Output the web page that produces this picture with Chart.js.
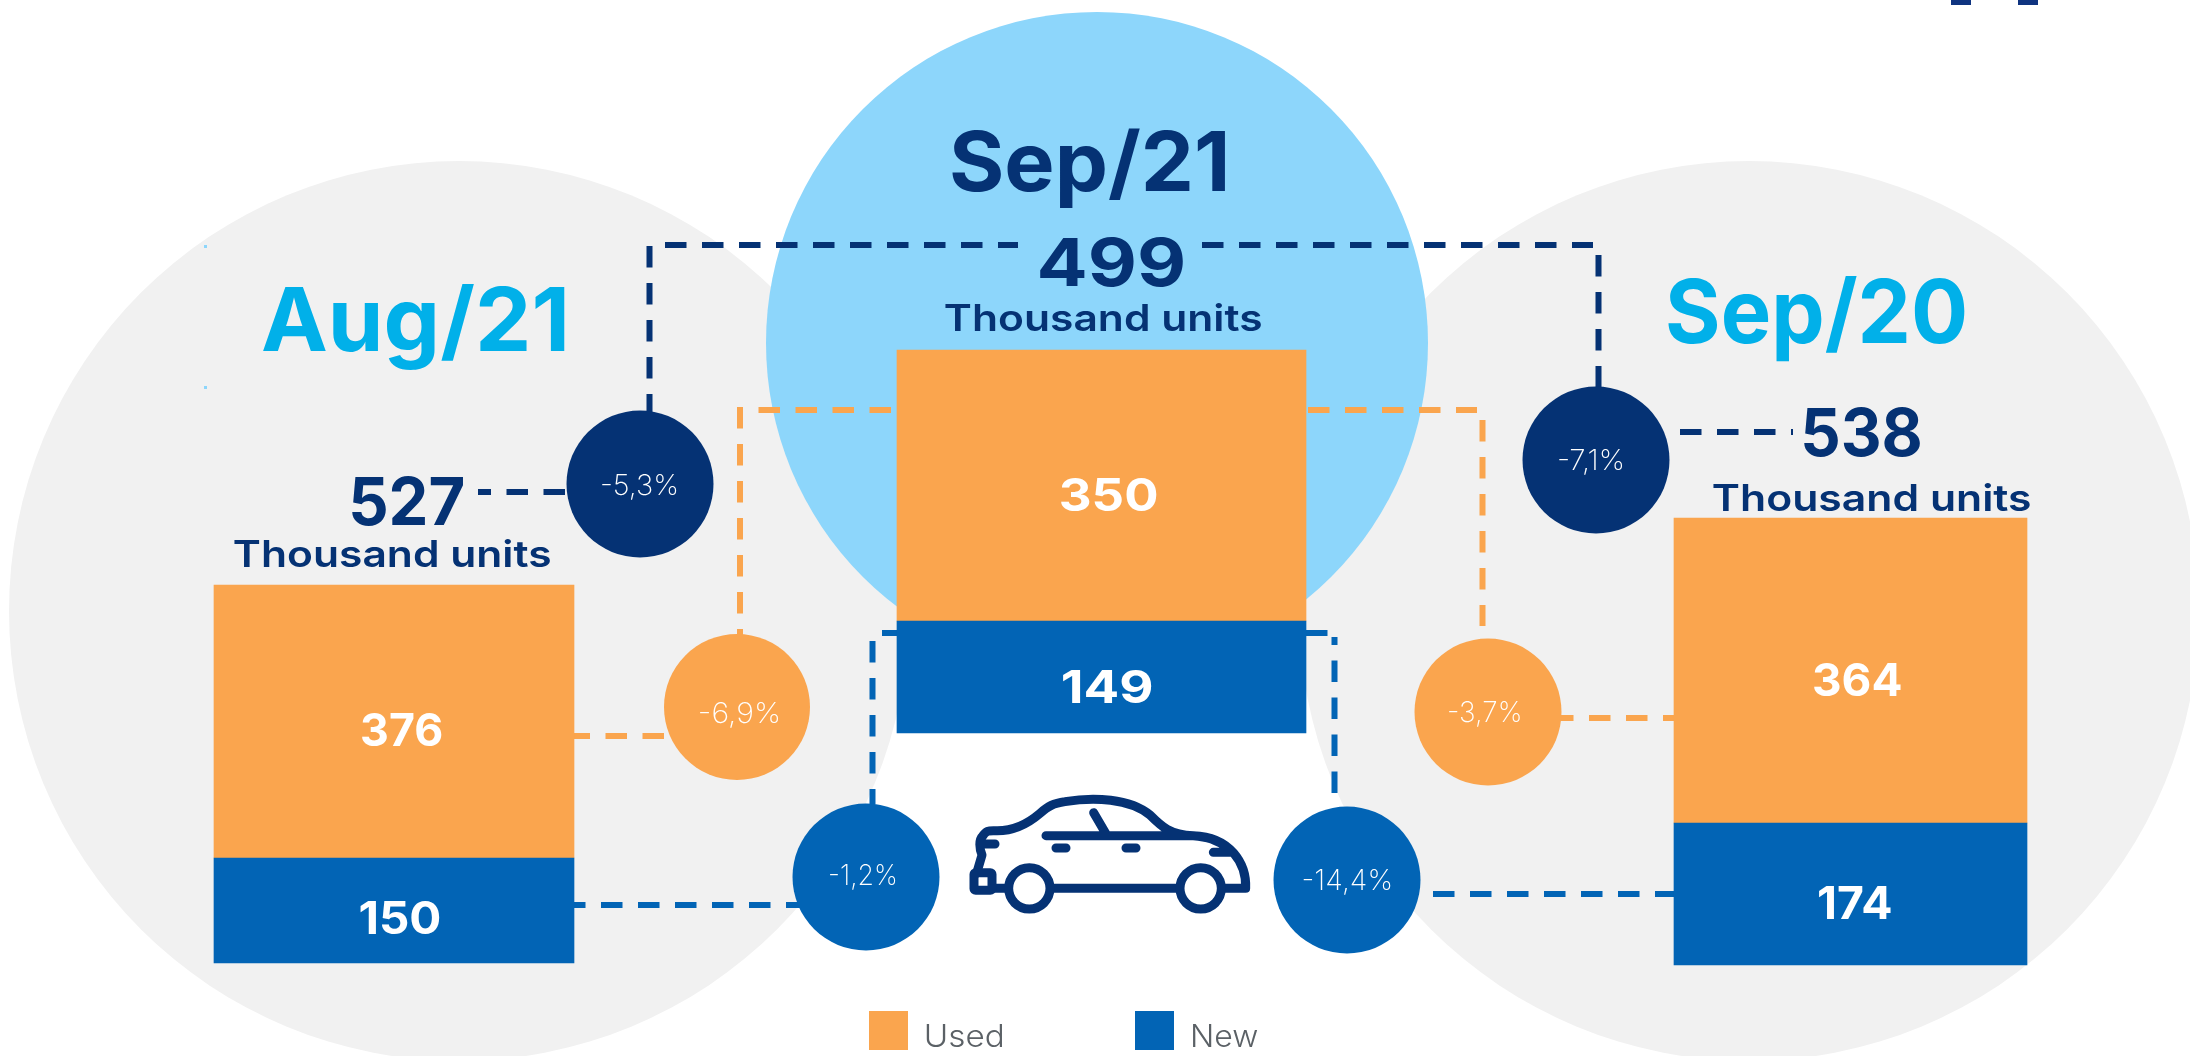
<!DOCTYPE html>
<html><head><meta charset="utf-8">
<style>html,body{margin:0;padding:0;background:#fff}canvas{display:block}</style>
<script src="https://cdn.jsdelivr.net/npm/chart.js@4"></script>
</head><body>
<canvas id="c" width="2190" height="1056"></canvas>
<script>
// ---- data ----
const categories = ['Aug/21', 'Sep/21', 'Sep/20'];
const usedValues = [376, 350, 364];
const newValues  = [150, 149, 174];
const totals     = [527, 499, 538];
const unitLabel  = 'Thousand units';
const seriesNames = ['Used', 'New'];
const totalChanges = ['-5,3%', '-7,1%'];
const usedChanges  = ['-6,9%', '-3,7%'];
const newChanges   = ['-1,2%', '-14,4%'];

// ---- colours ----
const ORANGE='#faa54e', BLUE='#0264b5', NAVY='#053274', CYAN='#01b0e9', GREY='#f1f1f1', SKY='#8dd6fb', LEG='#5b6166';
const HEAD='Inter, sans-serif';

// ---- layout (pixels in the 2190x1056 page) ----
const W=2190,H=1056;
const cols=[
 {cx:394,   w:360, top:585, mid:858, bot:963, usedLab:[362,442,746],   newLab:[360.5,440,934]},
 {cx:1101.5,w:409, top:350, mid:621, bot:733, usedLab:[1061,1157,511], newLab:[1063,1152,703]},
 {cx:1850.5,w:353, top:518, mid:823, bot:965, usedLab:[1814,1901,696], newLab:[1819,1891,919]}
];
function yScale(zeroPx,valuePx,value){
  const ppu=(zeroPx-valuePx)/value;
  return {display:false,min:-(H-zeroPx)/ppu,max:zeroPx/ppu};
}
const scales={x:{type:'linear',display:false,offset:false,min:0,max:W}};
const datasets=[];
categories.forEach((c,i)=>{
  const g=cols[i];
  scales['yNew'+i]=yScale(g.bot,g.mid,newValues[i]);
  scales['yUsed'+i]=yScale(g.mid,g.top,usedValues[i]);
  datasets.push({label:seriesNames[1]+' '+c,stack:'all',yAxisID:'yNew'+i,barThickness:g.w,backgroundColor:BLUE,borderWidth:0,data:[{x:g.cx,y:newValues[i]}]});
  datasets.push({label:seriesNames[0]+' '+c,stack:'all',yAxisID:'yUsed'+i,barThickness:g.w,backgroundColor:ORANGE,borderWidth:0,data:[{x:g.cx,y:usedValues[i]}]});
});

// fits a text into [x0,x1] on the given baseline
function fit(ctx,text,x0,x1,base,font,color){
  ctx.save();
  ctx.font=font;ctx.fillStyle=color;ctx.textAlign='left';ctx.textBaseline='alphabetic';
  const m=ctx.measureText(text);
  const inkL=-m.actualBoundingBoxLeft, inkW=m.actualBoundingBoxRight+m.actualBoundingBoxLeft;
  const k=(x1-x0)/inkW;
  ctx.translate(x0-inkL*k,base);ctx.scale(k,1);
  ctx.fillText(text,0,0);
  ctx.restore();
}
function dashed(ctx,color,pts){
  ctx.save();
  ctx.strokeStyle=color;ctx.lineWidth=6;ctx.setLineDash([21.5,15.5]);ctx.lineCap='butt';
  ctx.beginPath();ctx.moveTo(pts[0],pts[1]);
  for(let i=2;i<pts.length;i+=2)ctx.lineTo(pts[i],pts[i+1]);
  ctx.stroke();ctx.restore();
}
function disc(ctx,x,y,r,color){ctx.fillStyle=color;ctx.beginPath();ctx.arc(x,y,r,0,Math.PI*2);ctx.fill();}

function drawCar(ctx){
  ctx.save();
  ctx.translate(950,780);ctx.scale(1/3,1/3);
  ctx.strokeStyle=NAVY;ctx.lineWidth=27;ctx.lineCap='round';ctx.lineJoin='round';
  ctx.beginPath();
  ctx.moveTo(80,280);ctx.lineTo(96,225);
  ctx.bezierCurveTo(88,205,86,180,98,168);
  ctx.bezierCurveTo(108,152,116,152,130,152);
  ctx.bezierCurveTo(190,156,235,130,270,100);
  ctx.bezierCurveTo(295,78,310,70,345,65);
  ctx.bezierCurveTo(430,50,540,55,600,105);
  ctx.bezierCurveTo(635,140,660,165,730,167);
  ctx.bezierCurveTo(840,170,890,250,887,325);
  ctx.lineTo(825,325);
  ctx.moveTo(680,325);ctx.lineTo(312,325);
  ctx.moveTo(165,325);ctx.lineTo(125,325);
  ctx.moveTo(288,167);ctx.lineTo(730,167);
  ctx.bezierCurveTo(770,170,800,178,835,205);
  ctx.moveTo(431,98);ctx.lineTo(470,165);
  ctx.moveTo(318,204);ctx.lineTo(348,204);
  ctx.moveTo(528,204);ctx.lineTo(558,204);
  ctx.moveTo(790,217);ctx.lineTo(848,217);
  ctx.moveTo(95,192);ctx.lineTo(135,192);
  ctx.stroke();
  ctx.beginPath();ctx.arc(238,325,62,0,Math.PI*2);ctx.stroke();
  ctx.beginPath();ctx.arc(752,325,62,0,Math.PI*2);ctx.stroke();
  ctx.beginPath();ctx.roundRect(72,278,54,53,5);ctx.stroke();
  ctx.restore();
}

const decor={
  id:'decor',
  beforeDatasetsDraw(chart){
    const ctx=chart.ctx;
    disc(ctx,459,611,450,GREY);
    disc(ctx,1749,611,450,GREY);
    disc(ctx,1097,343,331,SKY);

    // corner fragments and specks
    ctx.fillStyle='#0f3480';ctx.fillRect(1951,0,20,5);ctx.fillRect(2018,0,20,5);
    ctx.fillStyle=SKY;ctx.fillRect(204,245,3,3);ctx.fillRect(204,386,3,3);

    // connectors
    dashed(ctx,NAVY,[665,245,1018,245]);
    dashed(ctx,NAVY,[1202,245,1593,245]);
    dashed(ctx,NAVY,[649.5,246,649.5,412]);
    dashed(ctx,NAVY,[1598.5,255,1598.5,389]);
    dashed(ctx,NAVY,[565,492,478,492]);
    dashed(ctx,NAVY,[1680,432,1793,432]);
    dashed(ctx,ORANGE,[891,410,737,410]);
    dashed(ctx,ORANGE,[740,407,740,635]);
    dashed(ctx,ORANGE,[1308,410,1477,410]);
    dashed(ctx,ORANGE,[1482.5,420,1482.5,626]);
    dashed(ctx,ORANGE,[664,736,574,736]);
    dashed(ctx,ORANGE,[1552,718,1674,718]);
    dashed(ctx,BLUE,[897,633,882,633]);
    dashed(ctx,BLUE,[872.5,641,872.5,804]);
    dashed(ctx,BLUE,[1306,633,1328,633]);
    dashed(ctx,BLUE,[1334.5,793,1334.5,637]);
    dashed(ctx,BLUE,[564,905,800,905]);
    dashed(ctx,BLUE,[1433,894,1674,894]);

    // change badges
    disc(ctx,640,484,73.5,NAVY);
    disc(ctx,1596,460,73.5,NAVY);
    disc(ctx,737,707,73,ORANGE);
    disc(ctx,1488,712,73.5,ORANGE);
    disc(ctx,866,877,73.5,BLUE);
    disc(ctx,1347,880,73.5,BLUE);
    const light='200 28px '+HEAD;
    fit(ctx,totalChanges[0],602,677,495,light,'#fff');
    fit(ctx,totalChanges[1],1559,1623,470,light,'#fff');
    fit(ctx,usedChanges[0],700,779,723,light,'#fff');
    fit(ctx,usedChanges[1],1449,1520.5,722,light,'#fff');
    fit(ctx,newChanges[0],830,896,885,light,'#fff');
    fit(ctx,newChanges[1],1303.6,1391,890,light,'#fff');

    // headings and totals
    fit(ctx,categories[0],263,565,351,'700 88px '+HEAD,CYAN);
    fit(ctx,categories[1],952,1225,191,'700 82px '+HEAD,NAVY);
    fit(ctx,categories[2],1668,1965,343,'700 88px '+HEAD,CYAN);
    const big='700 66px '+HEAD, unit='600 37px '+HEAD;
    fit(ctx,String(totals[0]),352,463,525,big,NAVY);
    fit(ctx,String(totals[1]),1040,1183,286,big,NAVY);
    fit(ctx,String(totals[2]),1804,1920,456,big,NAVY);
    fit(ctx,unitLabel,234,550,567,unit,NAVY);
    fit(ctx,unitLabel,945,1261,331,unit,NAVY);
    fit(ctx,unitLabel,1713,2030,511,unit,NAVY);

    drawCar(ctx);

    // legend
    ctx.fillStyle=ORANGE;ctx.fillRect(869,1011,39,39);
    ctx.fillStyle=BLUE;ctx.fillRect(1135,1011,39,39);
    fit(ctx,seriesNames[0],926,1003,1047,'300 31px '+HEAD,LEG);
    fit(ctx,seriesNames[1],1192,1258,1047,'300 31px '+HEAD,LEG);
  },
  afterDatasetsDraw(chart){
    const ctx=chart.ctx;
    const lab='700 45px '+HEAD;
    categories.forEach((c,i)=>{
      const g=cols[i];
      fit(ctx,String(usedValues[i]),g.usedLab[0],g.usedLab[1],g.usedLab[2],lab,'#fff');
      fit(ctx,String(newValues[i]),g.newLab[0],g.newLab[1],g.newLab[2],lab,'#fff');
    });
  }
};

new Chart(document.getElementById('c'),{
  type:'bar',
  data:{datasets},
  options:{
    responsive:false,animation:false,
    layout:{padding:0},
    scales,
    plugins:{legend:{display:false},tooltip:{enabled:false},title:{display:false}}
  },
  plugins:[decor]
});
</script>
</body></html>
